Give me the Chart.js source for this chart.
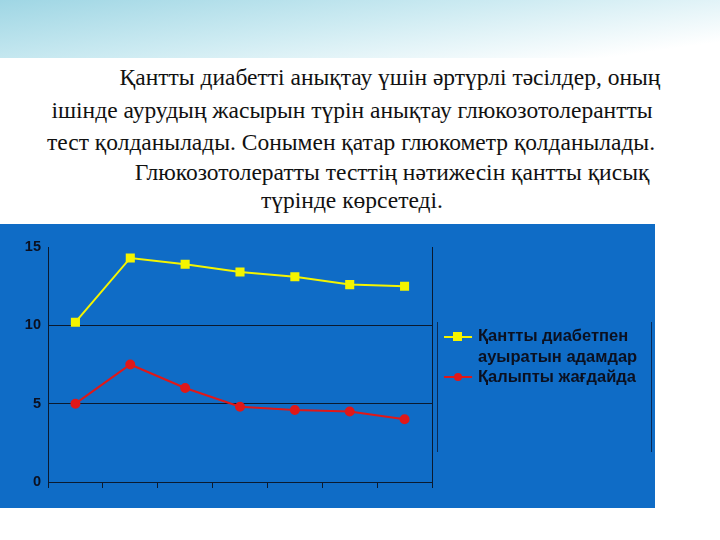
<!DOCTYPE html>
<html>
<head>
<meta charset="utf-8">
<script src="https://cdn.jsdelivr.net/npm/chart.js@4"></script>
<style>
  body { margin:0; width:720px; height:540px; background:#fff; position:relative; overflow:hidden; font-family:"Liberation Serif", serif; }
  #top { position:absolute; left:0; top:0; width:720px; height:58px;
    background:linear-gradient(172deg, #9fd6e4 0%, #cdebf2 45%, #ffffff 90%); }
  .ln { position:absolute; width:720px; text-align:center; font-size:23.5px; line-height:28px; color:#111; white-space:nowrap; }
  #box { position:absolute; left:0; top:224px; width:655px; height:284px; background:#0f6cc6; }
  #legend { position:absolute; left:437px; top:322px; width:213px; height:130px;
    border-left:1px solid #0a2a55; border-right:1px solid #0a2a55;
    font-family:"Liberation Sans", Arial, sans-serif; font-weight:bold; font-size:16.5px; color:#0b1020; }
  .it { position:absolute; left:8px; }
  .sw { position:absolute; left:0; width:28px; height:2px; }
  .mk { position:absolute; left:10px; }
</style>
</head>
<body>
<div id="top"></div>
<div class="ln" style="top:63px;left:30px">Қантты диабетті анықтау үшін әртүрлі тәсілдер, оның</div>
<div class="ln" style="top:96px;left:-8px">ішінде  аурудың жасырын түрін анықтау глюкозотолерантты</div>
<div class="ln" style="top:128px;left:-9px">тест қолданылады. Сонымен қатар глюкометр қолданылады.</div>
<div class="ln" style="top:158px;left:32px">Глюкозотолератты тесттің нәтижесін қантты қисық</div>
<div class="ln" style="top:186px;left:-8px">түрінде көрсетеді.</div>
<div id="box"><canvas id="c" width="655" height="284"></canvas></div>
<div id="legend">
  <div class="sw" style="top:14px;left:6px;background:#f4f400"></div>
  <div class="mk" style="top:10px;left:15px;width:9px;height:9px;background:#f4f400"></div>
  <div class="it" style="top:3px;left:40px;line-height:21px">Қантты диабетпен<br>ауыратын адамдар</div>
  <div class="sw" style="top:54px;left:6px;background:#e01818"></div>
  <div class="mk" style="top:51px;left:16px;width:8px;height:8px;border-radius:50%;background:#e01818"></div>
  <div class="it" style="top:45px;left:40px">Қалыпты жағдайда</div>
</div>
<script>
// =========================================
// DATA
// =========================================
const categories = ['1', '2', '3', '4', '5', '6', '7'];
const diabetValues = [10.2, 14.3, 13.9, 13.4, 13.1, 12.6, 12.5];
const normalValues = [5.0, 7.5, 6.0, 4.8, 4.6, 4.5, 4.0];
const seriesNames = ['Қантты диабетпен ауыратын адамдар', 'Қалыпты жағдайда'];

const rightBorder = {
  id: 'rightBorder',
  afterDraw(chart){
    const a = chart.chartArea, ctx = chart.ctx;
    ctx.save();
    ctx.strokeStyle = '#0a1a30';
    ctx.lineWidth = 1;
    ctx.beginPath();
    ctx.moveTo(a.right + 0.5, a.top);
    ctx.lineTo(a.right + 0.5, a.bottom + 6);
    ctx.stroke();
    ctx.restore();
  }
};

new Chart(document.getElementById('c'), {
  type: 'line',
  data: {
    labels: categories,
    datasets: [{
      label: seriesNames[0],
      data: diabetValues,
      borderColor: '#f4f400',
      backgroundColor: '#f4f400',
      borderWidth: 2,
      pointStyle: 'rect',
      pointRadius: 5,
      tension: 0
    }, {
      label: seriesNames[1],
      data: normalValues,
      borderColor: '#e01818',
      backgroundColor: '#e01818',
      borderWidth: 2,
      pointStyle: 'circle',
      pointRadius: 4,
      tension: 0
    }]
  },
  options: {
    responsive: false,
    animation: false,
    layout: { padding: { left: 6, right: 223, top: 23, bottom: 0 } },
    plugins: { legend: { display: false }, tooltip: { enabled: false } },
    scales: {
      x: {
        offset: true,
        grid: { offset: true, drawOnChartArea: false, color: '#0a1a30', tickLength: 6 },
        border: { color: '#0a1a30' },
        ticks: { display: false },
        afterFit(s){ s.height = 26; }
      },
      y: {
        min: 0, max: 15,
        ticks: { stepSize: 5, color: '#0b1020', font: { family: 'Liberation Sans', weight: 'bold', size: 14.5 }, padding: 7 },
        grid: { color: ctx => (ctx.tick && (ctx.tick.value === 5 || ctx.tick.value === 10)) ? '#0a1a30' : 'rgba(0,0,0,0)', tickLength: 0 },
        border: { color: '#0a1a30' },
        afterFit(s){ s.width = 42; }
      }
    }
  },
  plugins: [rightBorder]
});
</script>
</body>
</html>
